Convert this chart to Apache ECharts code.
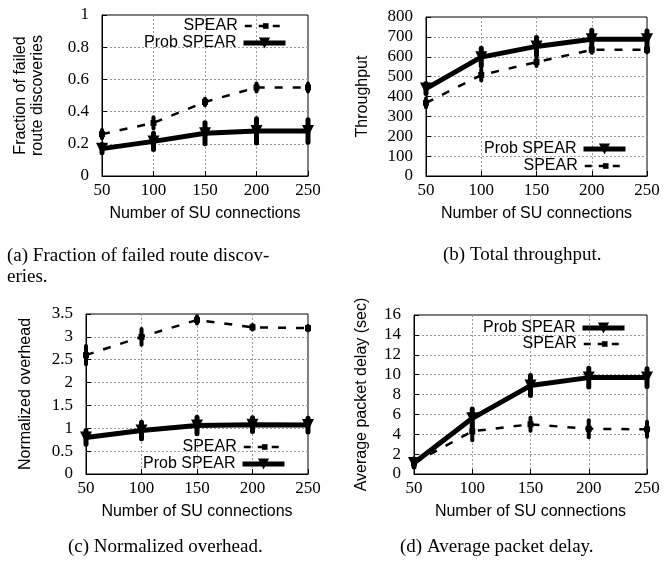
<!DOCTYPE html>
<html>
<head>
<meta charset="utf-8">
<script src="https://cdn.jsdelivr.net/npm/echarts@6/dist/echarts.min.js"></script>
<style>
html, body { margin: 0; padding: 0; background: #fff; }
#chart { width: 671px; height: 567px; }
</style>
</head>
<body>
<div id="chart"></div>
<script>
var connections = [50, 100, 150, 200, 250];

// (a) fraction of failed route discoveries
var failSpear = [0.26, 0.33, 0.46, 0.55, 0.55];
var failSpearErr = [0.025, 0.035, 0.02, 0.025, 0.025];
var failProb = [0.17, 0.215, 0.265, 0.28, 0.28];
var failProbErr = [0.025, 0.05, 0.065, 0.075, 0.07];

// (b) total throughput
var thrSpear = [368, 508, 573, 635, 635];
var thrSpearErr = [22, 28, 20, 15, 12];
var thrProb = [440, 598, 652, 688, 688];
var thrProbErr = [25, 45, 45, 45, 42];

// (c) normalized overhead
var ovhSpear = [2.6, 3.0, 3.37, 3.21, 3.19];
var ovhSpearErr = [0.2, 0.17, 0.08, 0.05, 0.05];
var ovhProb = [0.8, 0.95, 1.06, 1.08, 1.07];
var ovhProbErr = [0.15, 0.18, 0.18, 0.15, 0.15];

// (d) average packet delay
var dlySpear = [1.1, 4.3, 5.0, 4.55, 4.5];
var dlySpearErr = [0.25, 0.9, 0.65, 0.85, 0.75];
var dlyProb = [1.1, 5.6, 8.9, 9.7, 9.7];
var dlyProbErr = [0.4, 0.95, 1.0, 0.95, 0.9];

var yMax = [1, 800, 3.5, 16];
var yStep = [0.2, 100, 0.5, 2];
var yNames = ['Fraction of failed\nroute discoveries', 'Throughput', 'Normalized overhead', 'Average packet delay (sec)'];
var yGaps = [56, 55, 52, 44];

var serif = '"Liberation Serif", "Times New Roman", serif';
var sans = '"Liberation Sans", Arial, sans-serif';

var chart = echarts.init(document.getElementById('chart'));

function pairs(vals) {
    return connections.map(function (c, i) { return [c, vals[i]]; });
}

function errorBars(k, vals, errs, w) {
    return {
        type: 'custom',
        xAxisIndex: k,
        yAxisIndex: k,
        silent: true,
        z: 3,
        data: connections.map(function (c, i) { return [c, vals[i] - errs[i], vals[i] + errs[i]]; }),
        encode: {x: 0, y: [1, 2]},
        renderItem: function (params, api) {
            var lo = api.coord([api.value(0), api.value(1)]);
            var hi = api.coord([api.value(0), api.value(2)]);
            return {
                type: 'line',
                shape: {x1: lo[0], y1: lo[1], x2: hi[0], y2: hi[1]},
                style: {stroke: '#000', lineWidth: w, lineCap: 'round'}
            };
        }
    };
}

function spearLine(k, vals) {
    return {
        name: 'SPEAR', type: 'line', xAxisIndex: k, yAxisIndex: k,
        data: pairs(vals),
        symbol: 'rect', symbolSize: 6,
        itemStyle: {color: '#000'},
        lineStyle: {color: '#000', width: 2.5, type: [8, 10]},
        z: 4
    };
}

function probLine(k, vals) {
    return {
        name: 'Prob SPEAR', type: 'line', xAxisIndex: k, yAxisIndex: k,
        data: pairs(vals),
        symbol: 'triangle', symbolRotate: 180, symbolSize: 12,
        itemStyle: {color: '#000'},
        lineStyle: {color: '#000', width: 5},
        z: 5
    };
}

var grids = [
    {left: 102, top: 15, width: 206, height: 161},
    {left: 426, top: 17, width: 221, height: 159},
    {left: 86, top: 314, width: 222, height: 160},
    {left: 414, top: 315, width: 233, height: 159}
];
grids.forEach(function (g) { g.show = true; g.borderColor = '#000'; g.borderWidth = 1; });

var xAxes = [], yAxes = [];
for (var k = 0; k < 4; k++) {
    xAxes.push({
        gridIndex: k, type: 'value', min: 50, max: 250, interval: 50,
        name: 'Number of SU connections', nameLocation: 'middle', nameGap: 30,
        nameTextStyle: {fontFamily: sans, fontSize: 16, color: '#000'},
        axisLine: {show: true, onZero: false, lineStyle: {color: '#000', width: 1}},
        axisTick: {inside: true, length: 5, lineStyle: {color: '#000'}},
        axisLabel: {fontFamily: serif, fontSize: 17, color: '#000', margin: 6},
        splitLine: {show: true, showMinLine: false, showMaxLine: false, lineStyle: {color: '#999', type: [2, 2], width: 1}}
    });
    yAxes.push({
        gridIndex: k, type: 'value', min: 0, max: yMax[k], interval: yStep[k],
        name: yNames[k], nameLocation: 'middle', nameGap: yGaps[k],
        nameTextStyle: {fontFamily: sans, fontSize: 16, color: '#000', lineHeight: 17},
        axisLine: {show: true, lineStyle: {color: '#000', width: 1}},
        axisTick: {inside: true, length: 5, lineStyle: {color: '#000'}},
        axisLabel: {fontFamily: serif, fontSize: 17, color: '#000', margin: 13},
        splitLine: {show: true, showMinLine: false, showMaxLine: false, lineStyle: {color: '#999', type: [2, 2], width: 1}}
    });
}

// one legend per entry, so each can have its own icon size
function legendItem(name, right, centerY) {
    var prob = name === 'Prob SPEAR';
    var h = prob ? 14 : 7;
    return {
        data: [name], orient: 'vertical', align: 'right',
        right: right, top: centerY - 7, itemWidth: 42, itemHeight: h,
        selectedMode: false, padding: 0,
        lineStyle: prob ? {width: 5} : {width: 2.5, type: [7, 7]},
        textStyle: {fontFamily: sans, fontSize: 16, color: '#000', padding: [0, 2, 0, 0]}
    };
}

var capFont = '19px ' + serif;

chart.setOption({
    animation: false,
    backgroundColor: '#fff',
    grid: grids,
    xAxis: xAxes,
    yAxis: yAxes,
    legend: [
        legendItem('SPEAR', 383, 25), legendItem('Prob SPEAR', 383, 42),
        legendItem('Prob SPEAR', 43, 148), legendItem('SPEAR', 43, 165),
        legendItem('SPEAR', 384, 446), legendItem('Prob SPEAR', 384, 463),
        legendItem('Prob SPEAR', 44, 327), legendItem('SPEAR', 44, 343)
    ],
    series: [
        errorBars(0, failSpear, failSpearErr, 4), errorBars(0, failProb, failProbErr, 5),
        spearLine(0, failSpear), probLine(0, failProb),
        errorBars(1, thrSpear, thrSpearErr, 4), errorBars(1, thrProb, thrProbErr, 5),
        spearLine(1, thrSpear), probLine(1, thrProb),
        errorBars(2, ovhSpear, ovhSpearErr, 4), errorBars(2, ovhProb, ovhProbErr, 5),
        spearLine(2, ovhSpear), probLine(2, ovhProb),
        errorBars(3, dlySpear, dlySpearErr, 4), errorBars(3, dlyProb, dlyProbErr, 5),
        spearLine(3, dlySpear), probLine(3, dlyProb)
    ],
    graphic: [
        {type: 'text', left: 7, top: 246, style: {text: '(a) Fraction of failed route discov-\neries.', font: capFont, fill: '#000', lineHeight: 21}},
        {type: 'text', left: 443, top: 246, style: {text: '(b) Total throughput.', font: capFont, fill: '#000'}},
        {type: 'text', left: 68, top: 538, style: {text: '(c) Normalized overhead.', font: capFont, fill: '#000'}},
        {type: 'text', left: 400, top: 538, style: {text: '(d) Average packet delay.', font: capFont, fill: '#000'}}
    ]
});
</script>
</body>
</html>
